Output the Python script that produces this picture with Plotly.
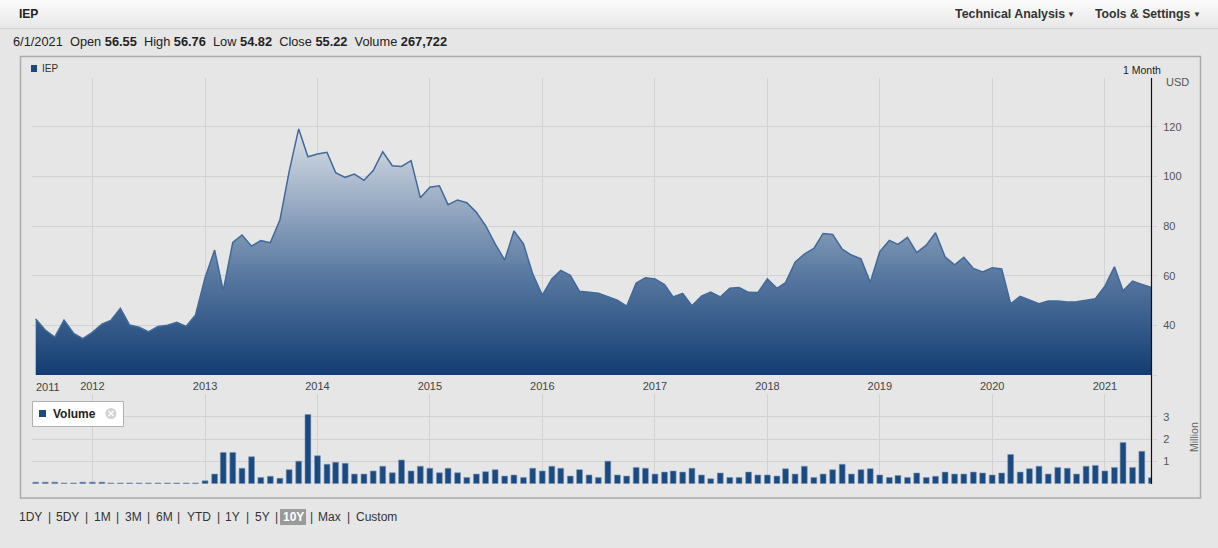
import plotly.graph_objects as go
import pandas as pd

W, H = 1218, 548

# ---------------- data ----------------
dates = pd.date_range("2011-07-01", "2021-06-01", freq="MS").strftime("%Y-%m-%d").tolist()

price = [42.6, 38.1, 35.3, 42.1, 36.8, 34.6, 37.2, 40.5, 42.0, 46.8,
         40.1, 39.2, 37.4, 39.5, 40.0, 41.2, 39.6, 44.2, 59.2, 70.3,
         54.0, 73.4, 76.4, 71.9, 74.1, 73.3, 82.4, 101.9, 119.1, 107.9,
         109.0, 109.7, 101.5, 99.6, 100.9, 98.4, 102.3, 109.9, 104.3, 104.0,
         106.3, 91.4, 95.6, 96.2, 88.6, 90.5, 89.4, 85.5, 80.1, 72.8,
         66.3, 78.0, 72.8, 60.7, 52.2, 58.7, 62.1, 60.1, 53.7, 53.4,
         52.9, 51.5, 50.1, 47.7, 57.0, 59.2, 58.7, 56.4, 51.4, 52.9,
         47.9, 51.8, 53.4, 51.4, 54.9, 55.2, 53.3, 53.2, 58.7, 54.9,
         57.2, 65.4, 68.7, 71.0, 77.0, 76.6, 70.7, 68.3, 66.8, 57.3,
         69.7, 74.2, 72.6, 75.4, 69.3, 72.3, 77.3, 67.6, 64.4, 67.4,
         62.9, 61.5, 63.2, 62.7, 48.7, 51.7, 50.1, 48.7, 49.8, 49.8,
         49.4, 49.5, 50.1, 50.7, 55.8, 63.6, 53.9, 57.8, 56.5, 55.22]

volume_m = [0.07, 0.07, 0.07, 0.035, 0.035, 0.07, 0.07, 0.07, 0.035, 0.035,
            0.035, 0.035, 0.035, 0.035, 0.035, 0.035, 0.035, 0.035, 0.13, 0.43,
            1.40, 1.40, 0.69, 1.21, 0.28, 0.33, 0.24, 0.63, 1.01, 3.10,
            1.25, 0.87, 0.96, 0.91, 0.43, 0.43, 0.57, 0.78, 0.49, 1.06,
            0.57, 0.78, 0.69, 0.49, 0.69, 0.49, 0.28, 0.43, 0.54, 0.63,
            0.34, 0.39, 0.28, 0.69, 0.57, 0.78, 0.69, 0.34, 0.63, 0.39,
            0.28, 1.01, 0.39, 0.34, 0.73, 0.69, 0.43, 0.52, 0.57, 0.52,
            0.69, 0.39, 0.22, 0.48, 0.28, 0.28, 0.52, 0.39, 0.39, 0.34,
            0.67, 0.43, 0.78, 0.28, 0.43, 0.63, 0.87, 0.43, 0.63, 0.67,
            0.39, 0.28, 0.37, 0.28, 0.48, 0.28, 0.33, 0.52, 0.43, 0.43,
            0.52, 0.48, 0.39, 0.48, 1.31, 0.52, 0.67, 0.78, 0.43, 0.73,
            0.69, 0.43, 0.78, 0.82, 0.57, 0.73, 1.84, 0.73, 1.45, 0.27]

year_ticks = [f"{y}-01-01" for y in range(2012, 2022)]
year_labels = [str(y) for y in range(2012, 2022)]
first_year_label = "2011"
price_ticks = [20, 40, 60, 80, 100, 120]
price_tick_text = ["", "40", "60", "80", "100", "120"]
volume_ticks = [1, 2, 3]
volume_tick_text = ["1", "2", "3"]
range_buttons = ["1DY", "5DY", "1M", "3M", "6M", "YTD", "1Y", "5Y", "10Y", "Max", "Custom"]
active_button = "10Y"
quote_line = ("6/1/2021  Open <b>56.55</b>  High <b>56.76</b>  Low <b>54.82</b>  "
              "Close <b>55.22</b>  Volume <b>267,722</b>")

# ---------------- helpers ----------------
def px(x):
    return x / W


def py(y):
    return 1 - y / H


FONT = "Liberation Sans, Arial, Helvetica, sans-serif"
BG = "#e6e6e6"
GRID = "#d2d2d2"

fig = go.Figure()

fig.add_trace(go.Scatter(
    x=dates, y=price, mode="lines",
    line=dict(color="#41699a", width=1.5),
    fill="tozeroy",
    fillgradient=dict(type="vertical",
                      colorscale=[[0, "#123d73"], [0.4, "#5878a0"], [1, "#dde2e9"]],
                      start=20, stop=120),
    xaxis="x", yaxis="y", hoverinfo="skip", showlegend=False,
))

fig.add_trace(go.Bar(
    x=dates, y=volume_m,
    marker=dict(color="#1b4a80", line=dict(color="#7d97b8", width=0.6)),
    xaxis="x2", yaxis="y2", hoverinfo="skip", showlegend=False,
))

shapes = []
# header gradient
steps = 14
for i in range(steps):
    t = i / (steps - 1)
    c = int(round(0xfb + (0xe8 - 0xfb) * t))
    col = f"rgb({c},{c},{c})"
    shapes.append(dict(type="rect", xref="paper", yref="paper",
                       x0=0, x1=1, y0=py(i * 2), y1=py(i * 2 + 2),
                       fillcolor=col, line=dict(width=0), layer="below"))
shapes.append(dict(type="line", xref="paper", yref="paper",
                   x0=0, x1=1, y0=py(28.5), y1=py(28.5),
                   line=dict(color="#d0d0d0", width=1)))
# chart box
shapes.append(dict(type="rect", xref="paper", yref="paper",
                   x0=px(20.5), x1=px(1200.5), y0=py(498), y1=py(56.5),
                   line=dict(color="#ababab", width=1.5), layer="below"))
# black axis line
shapes.append(dict(type="line", xref="paper", yref="paper",
                   x0=px(1151.5), x1=px(1151.5), y0=py(78), y1=py(484),
                   line=dict(color="#111111", width=1.2)))
# IEP legend marker
shapes.append(dict(type="rect", xref="paper", yref="paper",
                   x0=px(31), x1=px(37), y0=py(72), y1=py(65),
                   fillcolor="#1b4a80", line=dict(width=0)))
# volume legend box
shapes.append(dict(type="rect", xref="paper", yref="paper",
                   x0=px(32.5), x1=px(123.5), y0=py(426.5), y1=py(401.5),
                   fillcolor="#ffffff", line=dict(color="#b0b0b0", width=1)))
shapes.append(dict(type="rect", xref="paper", yref="paper",
                   x0=px(39), x1=px(46), y0=py(417), y1=py(410),
                   fillcolor="#1b4a80", line=dict(width=0)))
shapes.append(dict(type="circle", xref="paper", yref="paper",
                   x0=px(105.5), x1=px(116.5), y0=py(419), y1=py(408),
                   fillcolor="#d3d3d3", line=dict(width=0)))
shapes.append(dict(type="line", xref="paper", yref="paper",
                   x0=px(108.5), x1=px(113.5), y0=py(411), y1=py(416),
                   line=dict(color="#ffffff", width=1.3)))
shapes.append(dict(type="line", xref="paper", yref="paper",
                   x0=px(108.5), x1=px(113.5), y0=py(416), y1=py(411),
                   line=dict(color="#ffffff", width=1.3)))
# active range button
shapes.append(dict(type="rect", xref="paper", yref="paper",
                   x0=px(280), x1=px(306), y0=py(525), y1=py(509),
                   fillcolor="#9a9a9a", line=dict(width=0)))

annotations = []


def note(text, x, y, size=12, color="#333333", anchor="left", bold=False, angle=0):
    if bold:
        text = f"<b>{text}</b>"
    annotations.append(dict(text=text, x=px(x), y=py(y), xref="paper", yref="paper",
                            xanchor=anchor, yanchor="middle", showarrow=False,
                            textangle=angle,
                            font=dict(family=FONT, size=size, color=color)))


note("IEP", 17, 14.5, size=12, color="#222222", bold=True)
note("Technical Analysis", 953, 14.5, size=12.4, color="#333333", bold=True)
note("▼", 1071, 15, size=8, color="#333333", anchor="center")
note("Tools & Settings", 1093, 14.5, size=12.2, color="#333333", bold=True)
note("▼", 1197, 15, size=8, color="#333333", anchor="center")
note(quote_line, 11, 42, size=12.8, color="#222222")
note("IEP", 40, 68.5, size=10, color="#333333")
note("1 Month", 1142, 70.5, size=10.5, color="#222222", anchor="center")
note("USD", 1164, 82, size=11, color="#555555")
note(first_year_label, 48, 386.5, size=11, color="#444444", anchor="center")
note("Volume", 51, 414, size=12, color="#222222", bold=True)
note("Million", 1194, 437, size=10.5, color="#666666", anchor="center", angle=-90)

# range selector (button centres and separators)
button_centres = [30, 67.5, 102, 133, 164, 198.5, 232.5, 262, 293, 329.5, 376]
separator_x = [49, 86.5, 117.5, 148.5, 179, 218, 247, 276, 311, 348]
for label, cx in zip(range_buttons, button_centres):
    if label == active_button:
        note(label, cx, 517, size=12, color="#ffffff", anchor="center", bold=True)
    else:
        note(label, cx, 517, size=12, color="#333333", anchor="center")
for sx in separator_x:
    note("|", sx, 517, size=12, color="#333333", anchor="center")

fig.update_layout(
    width=W, height=H, autosize=False,
    margin=dict(l=0, r=0, t=0, b=0),
    paper_bgcolor=BG, plot_bgcolor=BG,
    font=dict(family=FONT, size=11, color="#444444"),
    bargap=0.32,
    showlegend=False,
    shapes=shapes,
    annotations=annotations,
    xaxis=dict(domain=[px(32), px(1152)], anchor="y", type="date",
               range=["2011-06-19", "2021-06-03"],
               tickmode="array", tickvals=year_ticks, ticktext=year_labels,
               showgrid=True, gridcolor=GRID, gridwidth=1, ticks="",
               ticklabelstandoff=3,
               zeroline=False, showline=False,
               tickfont=dict(family=FONT, size=11, color="#444444")),
    xaxis2=dict(domain=[px(32), px(1152)], anchor="y2", matches="x", type="date",
                tickmode="array", tickvals=year_ticks,
                showticklabels=False, showgrid=True, gridcolor=GRID, gridwidth=1,
                ticks="", zeroline=False, showline=False),
    yaxis=dict(domain=[py(375), py(78)], anchor="x", side="right",
               range=[20, 139.6], tickmode="array",
               tickvals=price_ticks, ticktext=price_tick_text,
               ticks="outside", ticklen=4, tickcolor=GRID,
               ticklabelstandoff=4,
               showgrid=True, gridcolor=GRID, gridwidth=1,
               zeroline=False, showline=False,
               tickfont=dict(family=FONT, size=11, color="#555555")),
    yaxis2=dict(domain=[py(483.7), py(394)], anchor="x2", side="right",
                range=[0, 4.015], tickmode="array",
                tickvals=volume_ticks, ticktext=volume_tick_text,
                ticks="outside", ticklen=4, tickcolor=GRID,
                ticklabelstandoff=4,
                showgrid=True, gridcolor=GRID, gridwidth=1,
                zeroline=False, showline=False,
                tickfont=dict(family=FONT, size=11, color="#555555")),
)

fig.write_html(
    "out.html",
    config={"displayModeBar": False},
    post_script="document.body.style.margin='0';document.body.style.padding='0';"
                "document.body.style.background='#e6e6e6';",
)
